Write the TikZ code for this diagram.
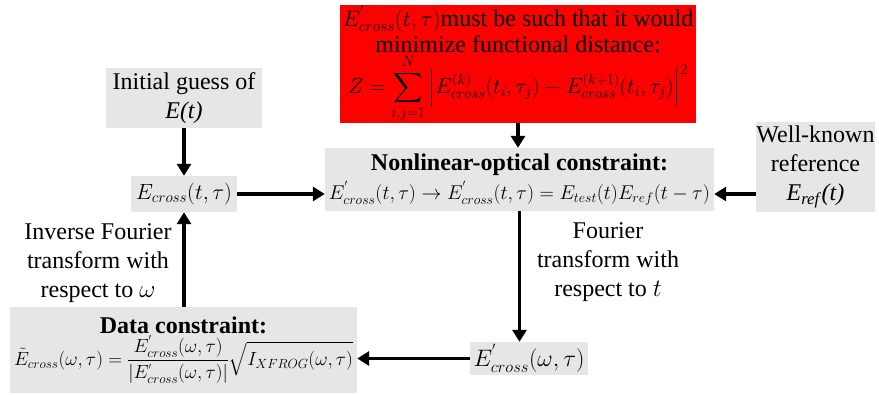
\documentclass[tikz,border=0pt]{standalone}
\usepackage{amsmath,amssymb}
\usepackage{graphicx}
\usepackage{fontspec}
\setmainfont{Liberation Serif}
\usetikzlibrary{arrows.meta,positioning,calc}
\definecolor{boxgray}{RGB}{230,230,230}
\definecolor{brightred}{RGB}{255,0,0}
% squeeze a formula to a given width
\newcommand{\mfit}[2]{\resizebox{#1}{!}{$\displaystyle #2$}}

\begin{document}
\begin{tikzpicture}[
    x=1pt, y=-1pt,
    font=\fontsize{24}{29}\selectfont,
    box/.style={rectangle, fill=boxgray, inner sep=0pt, align=center},
    flow/.style={-{Triangle[length=12pt,width=14pt]}, line width=3.5pt},
    note/.style={align=center}
]
    \useasboundingbox (0,0) rectangle (879,394);

    % Functional distance to be minimized
    \node[box, fill=brightred, minimum width=356pt, minimum height=114pt,
          font=\fontsize{24}{26}\selectfont] (target) at (518,64)
        {\mfit{98pt}{E^{'}_{cross}(t,\tau)}must be such that it would\\
         minimize functional distance:\\[1pt]
         \mfit{340pt}{Z=\sum_{i,j=1}^{N}\left|E^{(k)}_{cross}(t_i,\tau_j)-E^{(k+1)}_{cross}(t_i,\tau_j)\right|^2}};

    % Start of the loop
    \node[box, minimum width=156pt, minimum height=60pt] (init) at (184,98) {Initial guess of\\\textit{E(t)}};
    \node[box, minimum width=106pt, minimum height=36pt] (ecross) at (184,194) {\mfit{96pt}{E_{cross}(t,\tau)}};

    % Constraints
    \node[box, minimum width=389pt, minimum height=63pt] (nonlin) at (519.5,179.5)
        {\textbf{Nonlinear-optical constraint:}\\
         \mfit{381pt}{E^{'}_{cross}(t,\tau)\rightarrow E^{'}_{cross}(t,\tau)=E_{test}(t)E_{ref}(t-\tau)}};
    \node[box, minimum width=119pt, minimum height=90pt] (well) at (815.5,167)
        {Well-known\\reference\\\textit{E}\textsubscript{\textit{ref}}\textit{(t)}};
    \node[box, minimum width=347pt, minimum height=86pt] (data) at (183.5,350)
        {\textbf{Data constraint:}\\[1pt]
         \mfit{339pt}{\tilde{E}_{cross}(\omega,\tau)=\frac{E^{'}_{cross}(\omega,\tau)}{\left|E^{'}_{cross}(\omega,\tau)\right|}\sqrt{I_{XFROG}(\omega,\tau)}}};
    \node[box, minimum width=118pt, minimum height=33pt] (ecrossw) at (529,358.5) {\mfit{111pt}{E^{'}_{cross}(\omega,\tau)}};

    % Transform labels
    \node[note] (inv) at (98,263) {Inverse Fourier\\transform with\\respect to $\omega$};
    \node[note] (fwd) at (608,262) {Fourier\\transform with\\respect to $t$};

    \draw[flow] (init) -- (ecross);
    \draw[flow] (ecross.east) -- (ecross.east -| nonlin.west);
    \draw[flow] (well.west |- ecross.east) -- (nonlin.east |- ecross.east);
    \draw[flow] (target.south) -- (target.south |- nonlin.north);
    \draw[flow] (nonlin.south) -- (nonlin.south |- ecrossw.north);
    \draw[flow] (ecrossw.west) -- (ecrossw.west -| data.east);
    \draw[flow] (data.north -| ecross) -- (ecross.south);
\end{tikzpicture}
\end{document}
